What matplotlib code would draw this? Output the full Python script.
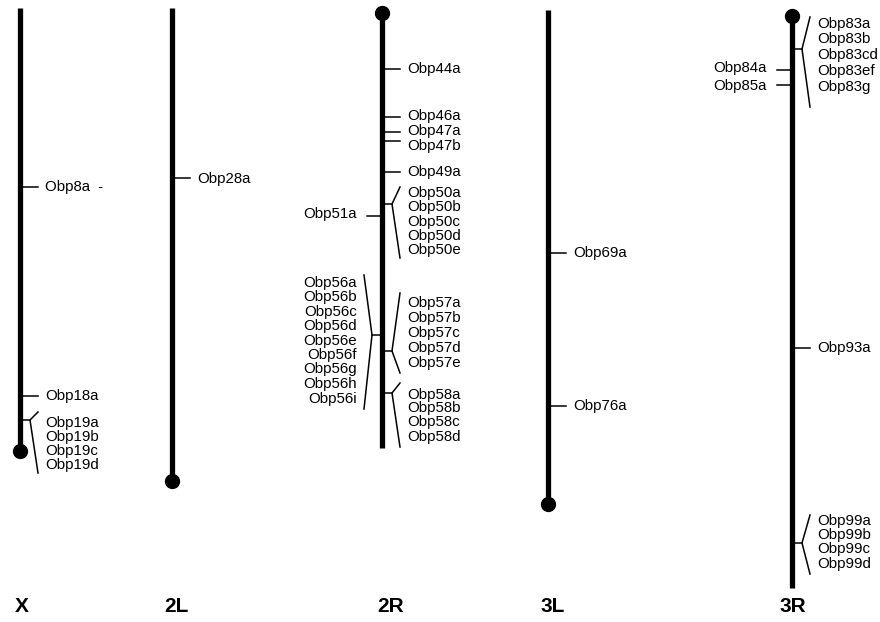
import matplotlib.pyplot as plt

# chromosome arms (pixel coordinates of the reference)
chrom_names = ["X", "2L", "2R", "3L", "3R"]
chrom_x = [20, 172, 382, 548, 792]
chrom_top = [8, 8, 13, 10, 16]
chrom_bottom = [451, 481, 448, 504, 588]
centromere = ["bottom", "bottom", "top", "bottom", "top"]
name_x = [22, 176, 391, 553, 793]

# single genes
single_chrom = [0, 0, 1, 2, 2, 2, 2, 2, 2, 3, 3, 4, 4, 4]
single_names = ["Obp8a  -", "Obp18a", "Obp28a", "Obp44a", "Obp46a", "Obp47a",
                "Obp47b", "Obp49a", "Obp51a", "Obp69a", "Obp76a", "Obp84a",
                "Obp85a", "Obp93a"]
single_y = [187, 396, 178, 69, 117, 132, 141, 172, 216, 253, 406, 70, 85, 348]
single_label_y = [187, 396, 179, 69, 116, 131, 146, 172, 214, 253, 406, 68, 86, 348]
single_side = ["r", "r", "r", "r", "r", "r", "r", "r", "l", "r", "r", "l", "l", "r"]

# gene clusters
group_chrom = [0, 2, 2, 2, 2, 4, 4]
group_side = ["r", "r", "l", "r", "r", "r", "r"]
group_stub_y = [420, 204, 335, 351, 393, 49, 543]
group_fan_top = [412, 187, 275, 293, 383, 17, 515]
group_fan_bottom = [473, 258, 409, 373, 447, 107, 574]
group_names = [
    ["Obp19a", "Obp19b", "Obp19c", "Obp19d"],
    ["Obp50a", "Obp50b", "Obp50c", "Obp50d", "Obp50e"],
    ["Obp56a", "Obp56b", "Obp56c", "Obp56d", "Obp56e", "Obp56f", "Obp56g",
     "Obp56h", "Obp56i"],
    ["Obp57a", "Obp57b", "Obp57c", "Obp57d", "Obp57e"],
    ["Obp58a", "Obp58b", "Obp58c", "Obp58d"],
    ["Obp83a", "Obp83b", "Obp83cd", "Obp83ef", "Obp83g"],
    ["Obp99a", "Obp99b", "Obp99c", "Obp99d"],
]
group_label_y = [
    [423, 437, 451, 465],
    [193, 207, 222, 236, 250],
    [283, 297, 312, 326, 341, 355, 369, 384, 399],
    [303, 318, 333, 348, 363],
    [395, 408, 422, 437],
    [24, 39, 55, 71, 87],
    [521, 535, 549, 564],
]

plt.rcParams['font.family'] = ['Liberation Sans', 'DejaVu Sans']
fig = plt.figure(figsize=(8.8, 6.22), dpi=100)
ax = fig.add_axes([0, 0, 1, 1])
ax.set_xlim(0, 880)
ax.set_ylim(622, 0)
ax.axis('off')

fs = 10.8
for i, name in enumerate(chrom_names):
    x = chrom_x[i]
    ax.plot([x, x], [chrom_top[i], chrom_bottom[i]], color='black', lw=3.8,
            solid_capstyle='butt')
    cy = chrom_bottom[i] if centromere[i] == "bottom" else chrom_top[i]
    ax.plot(x, cy, 'o', color='black', ms=10)
    ax.text(name_x[i], 607, name, ha='center', va='center', fontsize=15,
            fontweight='bold')

for i, name in enumerate(single_names):
    x = chrom_x[single_chrom[i]]
    s = 1 if single_side[i] == "r" else -1
    tick = 18 if s == 1 else 15
    ax.plot([x, x + s * tick], [single_y[i], single_y[i]], color='black', lw=1.1)
    ax.text(x + s * 25, single_label_y[i], name, ha='left' if s == 1 else 'right',
            va='center', fontsize=fs)

for g, names in enumerate(group_names):
    x = chrom_x[group_chrom[g]]
    s = 1 if group_side[g] == "r" else -1
    sx = x + s * 10
    fx = x + s * 18
    y0 = group_stub_y[g]
    ax.plot([x, sx], [y0, y0], color='black', lw=1.1)
    ax.plot([fx, sx, fx], [group_fan_top[g], y0, group_fan_bottom[g]],
            color='black', lw=1.1)
    for name, ly in zip(names, group_label_y[g]):
        ax.text(x + s * 25, ly, name, ha='left' if s == 1 else 'right',
                va='center', fontsize=fs)

fig.savefig('out.png', dpi=100)
